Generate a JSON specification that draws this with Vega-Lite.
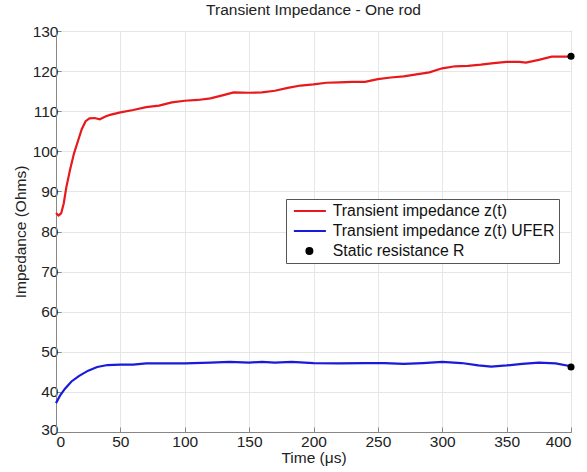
{
  "$schema": "https://vega.github.io/schema/vega-lite/v6.json",
  "width": 515,
  "height": 401,
  "padding": {"left": 13, "top": 2, "right": 0, "bottom": 3},
  "background": "white",
  "title": {"text": "Transient Impedance - One rod", "fontSize": 15.5, "fontWeight": "normal", "font": "Liberation Sans", "color": "#222", "offset": 6},
  "config": {
    "font": "Liberation Sans",
    "view": {"stroke": "#888", "strokeWidth": 1},
    "axis": {"labelFontSize": 15.5, "titleFontSize": 15.5, "titleFontWeight": "normal", "labelColor": "#222", "titleColor": "#222", "gridColor": "#e6e6e6", "domainColor": "#888", "tickColor": "#888", "tickSize": -5, "labelPadding": 3}
  },
  "datasets": {
    "red": [
      {"t": 0, "z": 84.6}, {"t": 2, "z": 84.0}, {"t": 4, "z": 84.5}, {"t": 6, "z": 87}, {"t": 8, "z": 91}, {"t": 11, "z": 95.5}, {"t": 14, "z": 99.5}, {"t": 17, "z": 102.5}, {"t": 20, "z": 105.5}, {"t": 23, "z": 107.5}, {"t": 26, "z": 108.2}, {"t": 30, "z": 108.3}, {"t": 34, "z": 108.0}, {"t": 38, "z": 108.6}, {"t": 42, "z": 109.1}, {"t": 50, "z": 109.7}, {"t": 60, "z": 110.3}, {"t": 70, "z": 111.0}, {"t": 80, "z": 111.4}, {"t": 90, "z": 112.2}, {"t": 100, "z": 112.6}, {"t": 110, "z": 112.8}, {"t": 120, "z": 113.2}, {"t": 130, "z": 114.0}, {"t": 138, "z": 114.7}, {"t": 150, "z": 114.6}, {"t": 160, "z": 114.7}, {"t": 170, "z": 115.1}, {"t": 180, "z": 115.8}, {"t": 190, "z": 116.4}, {"t": 200, "z": 116.7}, {"t": 210, "z": 117.1}, {"t": 220, "z": 117.2}, {"t": 230, "z": 117.3}, {"t": 240, "z": 117.3}, {"t": 250, "z": 118.0}, {"t": 260, "z": 118.4}, {"t": 270, "z": 118.7}, {"t": 280, "z": 119.2}, {"t": 290, "z": 119.7}, {"t": 300, "z": 120.7}, {"t": 310, "z": 121.2}, {"t": 320, "z": 121.3}, {"t": 330, "z": 121.6}, {"t": 340, "z": 122.0}, {"t": 350, "z": 122.3}, {"t": 360, "z": 122.3}, {"t": 365, "z": 122.1}, {"t": 375, "z": 122.8}, {"t": 385, "z": 123.6}, {"t": 395, "z": 123.6}, {"t": 400, "z": 123.6}
    ],
    "blue": [
      {"t": 0, "z": 37.2}, {"t": 3, "z": 39.0}, {"t": 7, "z": 40.8}, {"t": 12, "z": 42.6}, {"t": 18, "z": 44.0}, {"t": 25, "z": 45.3}, {"t": 32, "z": 46.2}, {"t": 40, "z": 46.7}, {"t": 50, "z": 46.8}, {"t": 60, "z": 46.8}, {"t": 70, "z": 47.1}, {"t": 85, "z": 47.1}, {"t": 100, "z": 47.1}, {"t": 120, "z": 47.3}, {"t": 135, "z": 47.5}, {"t": 150, "z": 47.3}, {"t": 160, "z": 47.5}, {"t": 170, "z": 47.3}, {"t": 183, "z": 47.5}, {"t": 200, "z": 47.2}, {"t": 220, "z": 47.1}, {"t": 240, "z": 47.2}, {"t": 255, "z": 47.2}, {"t": 270, "z": 47.0}, {"t": 285, "z": 47.2}, {"t": 300, "z": 47.5}, {"t": 315, "z": 47.2}, {"t": 328, "z": 46.6}, {"t": 338, "z": 46.3}, {"t": 350, "z": 46.6}, {"t": 362, "z": 47.0}, {"t": 375, "z": 47.3}, {"t": 388, "z": 47.1}, {"t": 400, "z": 46.4}
    ],
    "pts": [
      {"t": 400, "z": 123.7}, {"t": 400, "z": 46.2}
    ]
  },
  "layer": [
    {
      "data": {"name": "red"},
      "transform": [{"calculate": "'Transient impedance z(t)'", "as": "s"}],
      "mark": {"type": "line", "strokeWidth": 2.2},
      "encoding": {
        "x": {"field": "t", "type": "quantitative", "scale": {"domain": [0, 400], "nice": false}, "axis": {"title": "Time (μs)", "values": [0, 50, 100, 150, 200, 250, 300, 350, 400], "titlePadding": 1, "labelPadding": 7}},
        "y": {"field": "z", "type": "quantitative", "scale": {"domain": [30, 130], "nice": false}, "axis": {"title": "Impedance (Ohms)", "values": [30, 40, 50, 60, 70, 80, 90, 100, 110, 120, 130], "titlePadding": 4, "labelOffset": {"condition": {"test": "datum.value === 30", "value": -3}, "value": 0}}},
        "color": {"field": "s", "type": "nominal", "scale": {"domain": ["Transient impedance z(t)", "Transient impedance z(t) UFER", "Static resistance  R"], "range": ["#e8191c", "#1a1adb", "#000000"]},
          "legend": {"title": null, "orient": "none", "legendX": 230, "legendY": 168, "labelFontSize": 15.8, "labelColor": "#111", "labelLimit": 400, "strokeColor": "#555", "fillColor": "white", "padding": 4, "rowPadding": 3, "symbolSize": 100, "symbolStrokeWidth": 2, "labelOffset": 27,
            "encode": {"symbols": {"update": {
              "shape": {"signal": "datum.value === 'Static resistance  R' ? 'M1.7,0A0.6,0.6 0 1,1 2.9,0A0.6,0.6 0 1,1 1.7,0Z' : 'M-0.8,0H5.6'"},
              "fill": {"signal": "datum.value === 'Static resistance  R' ? 'black' : 'transparent'"}
            }}}}}
      }
    },
    {
      "data": {"name": "blue"},
      "transform": [{"calculate": "'Transient impedance z(t) UFER'", "as": "s"}],
      "mark": {"type": "line", "strokeWidth": 2.2},
      "encoding": {
        "x": {"field": "t", "type": "quantitative"},
        "y": {"field": "z", "type": "quantitative"},
        "color": {"field": "s", "type": "nominal"}
      }
    },
    {
      "data": {"name": "pts"},
      "transform": [{"calculate": "'Static resistance  R'", "as": "s"}],
      "mark": {"type": "point", "filled": true, "size": 50, "opacity": 1},
      "encoding": {
        "x": {"field": "t", "type": "quantitative"},
        "y": {"field": "z", "type": "quantitative"},
        "color": {"field": "s", "type": "nominal"}
      }
    }
  ]
}
